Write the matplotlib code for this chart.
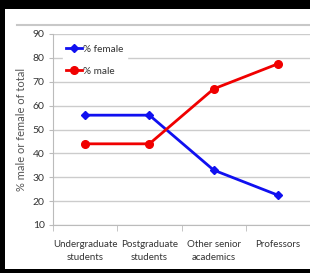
import matplotlib
matplotlib.use('Agg')
from matplotlib import pyplot as plt
from matplotlib.patches import Rectangle
from matplotlib.lines import Line2D

# data
categories = ['Undergraduate\nstudents', 'Postgraduate\nstudents', 'Other senior\nacademics', 'Professors']
female = [56, 56, 33, 22.5]
male = [44, 44, 67, 77.5]
yticks = [10, 20, 30, 40, 50, 60, 70, 80, 90]

plt.rcParams['font.family'] = ['Lato', 'DejaVu Sans']

fig = plt.figure(figsize=(3.10, 2.73), dpi=100, facecolor='black')
# white panel inside the black frame
fig.patches.append(Rectangle((5/310, 4/273), 1, 1 - 13/273, transform=fig.transFigure,
                             facecolor='white', edgecolor='none', zorder=-10))
fig.lines.append(Line2D([17/310, 1], [1 - 25/273, 1 - 25/273], transform=fig.transFigure,
                        color='#c8c8c8', lw=1.5, zorder=-5))

ax = fig.add_axes([53/310, 1 - 225/273, 1 - 53/310, (225 - 34)/273])
ax.set_facecolor('white')
x = list(range(len(categories)))
ax.plot(x, female, color='#1010f0', lw=2, marker='D', ms=4.5, label='% female', zorder=3)
ax.plot(x, male, color='#f00000', lw=2, marker='o', ms=5.5, label='% male', zorder=3)

ax.set_xlim(-0.5, 3.5)
ax.set_ylim(10, 90)
ax.set_yticks(yticks)
ax.set_xticks(x)
ax.set_xticklabels(categories, fontsize=7, color='#333333', linespacing=1.6)
ax.set_xticks([-0.5, 0.5, 1.5, 2.5, 3.5], minor=True)
ax.tick_params(axis='x', which='major', length=0, pad=11)
ax.tick_params(axis='x', which='minor', length=4, color='#bbbbbb', direction='out')
ax.tick_params(axis='y', labelsize=7.5, labelcolor='#333333', length=3, color='#bbbbbb', pad=3)
ax.yaxis.grid(True, color='#cccccc', lw=1)
ax.set_axisbelow(True)
for s in ['top', 'right']:
    ax.spines[s].set_visible(False)
ax.spines['left'].set_color('#bbbbbb')
ax.spines['bottom'].set_color('#bbbbbb')
ax.set_ylabel('% male or female of total', fontsize=8, color='#555555', labelpad=4)

leg = ax.legend(loc='upper left', bbox_to_anchor=(0.02, 0.985), fontsize=7.2, frameon=True,
                framealpha=1, edgecolor='white', handlelength=1.6, handletextpad=0.1,
                labelspacing=1.3, borderpad=0.3)
for t in leg.get_texts():
    t.set_color('#333333')

fig.savefig('out.png', dpi=100, facecolor='black')
